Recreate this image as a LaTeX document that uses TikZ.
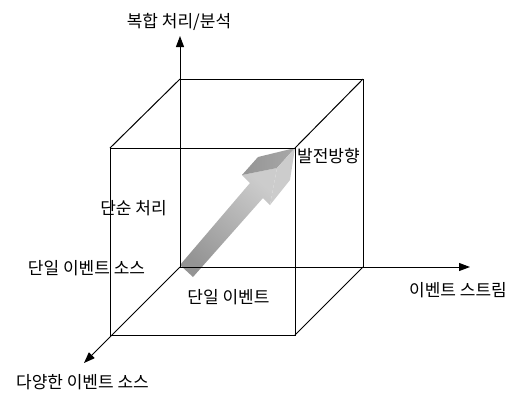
\documentclass[tikz,border=0pt]{standalone}
\usepackage{fontspec}
\newfontfamily\kr{Noto Sans CJK KR}
\usepackage{tikz}
\usetikzlibrary{arrows.meta}

\begin{document}
\begin{tikzpicture}[
    x=1pt, y=-1pt,
    >={Triangle[length=11pt,width=8pt]},
    edge/.style={line width=1pt},
    axis/.style={->, line width=1pt},
    lab/.style={font=\kr\fontsize{17}{17}\selectfont, inner sep=0pt},
    front/.style={shading=axis, top color=black!20, bottom color=black!42,
                  shading angle=-41},
  ]
  \useasboundingbox (0,0) rectangle (515,392);

  %% ---- cube corners -------------------------------------------------
  \coordinate (O)   at (180,267);
  \coordinate (BR)  at (363,267);
  \coordinate (TL)  at (180,79);
  \coordinate (TR)  at (363,79);
  \coordinate (FBL) at (110,335);
  \coordinate (FBR) at (295,335);
  \coordinate (FTL) at (110,148);
  \coordinate (FTR) at (295,148);

  %% ---- axis ends ----------------------------------------------------
  \coordinate (zend) at (180,36);
  \coordinate (xend) at (470,267);
  \coordinate (yend) at (84,363);

  %% ---- growth arrow (drawn first, lines go over it) ------------------
  \shade[front] (180,265) -- (250,183) -- (242,175) -- (277,168)
                -- (270,205) -- (263,198) -- (193,277) -- cycle;
  \shade[shading=axis, left color=black!42, right color=black!34]
        (242,175) -- (258,157) -- (295,148) -- (277,168) -- cycle;
  \fill[black!20] (277,168) -- (295,148) -- (290,180) -- (270,205) -- cycle;

  %% ---- axes ---------------------------------------------------------
  \draw[axis] (O) -- (zend);
  \draw[axis] (O) -- (xend);
  \draw[axis] (O) -- (yend);

  %% ---- cube edges ---------------------------------------------------
  \draw[edge] (FBL) -- (FBR) -- (FTR) -- (FTL) -- (FBL);
  \draw[edge] (TL) -- (TR) -- (BR);
  \draw[edge] (FTL) -- (TL);
  \draw[edge] (FTR) -- (TR);
  \draw[edge] (FBR) -- (BR);

  %% ---- labels -------------------------------------------------------
  \node[lab] (zlab) at (179,22) {복합 처리/분석};
  \node[lab, anchor=west] (dir) at (297,156) {발전방향};
  \node[lab] (simple) at (133.5,208) {단순 처리};
  \node[lab] (single) at (86.5,268) {단일 이벤트 소스};
  \node[lab] (event) at (228.5,297) {단일 이벤트};
  \node[lab] (xlab) at (458,290) {이벤트 스트림};
  \node[lab] (ylab) at (82.5,382) {다양한 이벤트 소스};

\end{tikzpicture}
\end{document}
